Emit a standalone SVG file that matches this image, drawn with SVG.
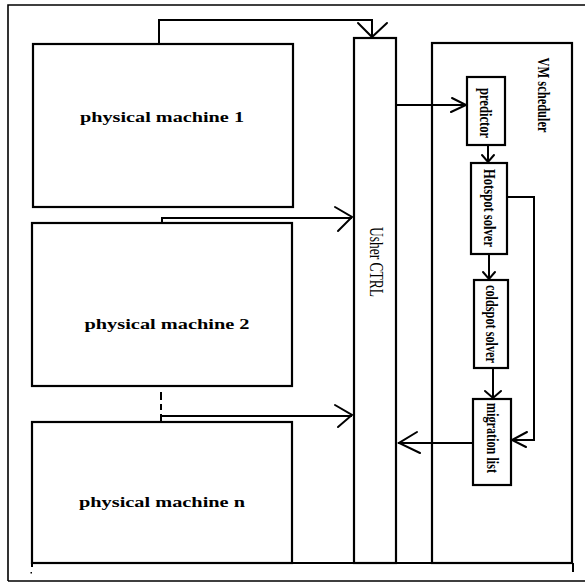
<svg xmlns="http://www.w3.org/2000/svg" width="585" height="582" viewBox="0 0 585 582">
<defs>
<style>
.box{fill:#fff;stroke:#000;stroke-width:2.2}
.ln{fill:none;stroke:#000;stroke-width:2}
.ah{fill:none;stroke:#000;stroke-width:2;stroke-linecap:round;stroke-linejoin:miter}
.pm{font-family:"Liberation Serif",serif;font-weight:bold;font-size:15px;text-anchor:middle;dominant-baseline:central}
.rt{font-family:"Liberation Serif",serif;font-size:18px;text-anchor:middle;dominant-baseline:central}
.rb{font-family:"Liberation Serif",serif;font-weight:bold;font-size:17px;text-anchor:middle;dominant-baseline:central}
</style>
</defs>
<rect width="585" height="582" fill="#fff"/>
<g id="frame">
<path d="M8,581 V5 H586 M8,581 H586" fill="none" stroke="#000" stroke-width="1.6"/>
<path class="ln" d="M32,563 H573 M573,563 V572 M32,563 V567"/>
<rect x="30.5" y="572" width="1.5" height="1.5" fill="#000"/>
</g>
<g id="pm1">
<rect class="box" x="33" y="44" width="260" height="163"/>
<text class="pm" x="162" y="117" textLength="164" lengthAdjust="spacingAndGlyphs">physical machine 1</text>
</g>
<g id="pm2">
<rect class="box" x="32" y="223" width="260" height="163"/>
<text class="pm" x="167" y="324" textLength="165" lengthAdjust="spacingAndGlyphs">physical machine 2</text>
</g>
<g id="pmn">
<rect class="box" x="32" y="422" width="260" height="141"/>
<text class="pm" x="162" y="502" textLength="166" lengthAdjust="spacingAndGlyphs">physical machine n</text>
</g>
<g id="usher">
<rect class="box" x="354" y="38" width="42" height="525"/>
<text class="rt" transform="translate(376,262) rotate(90)" textLength="70" lengthAdjust="spacingAndGlyphs">Usher CTRL</text>
</g>
<g id="vmscheduler">
<rect class="box" x="432" y="43" width="140" height="520"/>
<text class="rb" font-size="16" transform="translate(543,95) rotate(90)" textLength="75" lengthAdjust="spacingAndGlyphs">VM scheduler</text>
</g>
<g id="predictor">
<rect class="box" x="467" y="77" width="38" height="68"/>
<text class="rb" transform="translate(485,113) rotate(90)" textLength="50" lengthAdjust="spacingAndGlyphs">predictor</text>
</g>
<g id="hotspot">
<rect class="box" x="471" y="163" width="36" height="91"/>
<text class="rb" transform="translate(489,208) rotate(90)" textLength="78" lengthAdjust="spacingAndGlyphs">Hotspot solver</text>
</g>
<g id="coldspot">
<rect class="box" x="474" y="280" width="34" height="88"/>
<text class="rb" transform="translate(491,324) rotate(90)" textLength="78" lengthAdjust="spacingAndGlyphs">coldspot solver</text>
</g>
<g id="migration">
<rect class="box" x="473" y="399" width="38" height="86"/>
<text class="rb" transform="translate(492,438) rotate(90)" textLength="70" lengthAdjust="spacingAndGlyphs">migration list</text>
</g>
<g id="connectors">
<path class="ln" d="M159,44 V20 H372 V37"/>
<path class="ah" d="M358,23 L372,37 L387,23"/>
<path class="ln" d="M162,223 V218 H352"/>
<path class="ah" d="M335,207 L352,217 L338,231"/>
<path class="ln" d="M161,392 V400 M161,404 V410 M161,414 V422" stroke-width="2.5"/>
<path class="ln" d="M161,416 H352"/>
<path class="ah" d="M335,405 L352,415 L338,427"/>
<path class="ln" d="M396,105 H466"/>
<path class="ah" d="M452,98 L466,105 L451,112"/>
<path class="ln" d="M488,145 V162"/>
<path class="ah" d="M482,155 L488,162 L494,155"/>
<path class="ln" d="M489,254 V279"/>
<path class="ah" d="M483,272 L489,279 L495,272"/>
<path class="ln" d="M493,368 V398"/>
<path class="ah" d="M485,391 L493,398 L501,391"/>
<path class="ln" d="M507,197 H534 V440 H512"/>
<path class="ah" d="M527,432 L512,440 L526,447"/>
<path class="ln" d="M473,443 H398"/>
<path class="ah" d="M417,432 L399,443 L420,453"/>
</g>
</svg>
